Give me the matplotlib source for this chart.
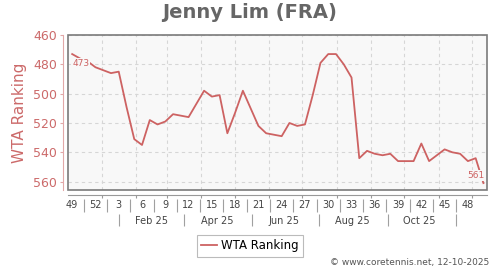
import numpy as np
import matplotlib
matplotlib.use("Agg")
import matplotlib.pyplot as plt
import matplotlib.dates as mdates
import matplotlib.transforms as mtransforms
from matplotlib.patches import Rectangle

# Data: weekly WTA ranking, ISO week 49/2024 .. week 50/2025
first_week = np.datetime64("2024-12-02")
ranking = [473, 476, 478, 482, 484, 486, 485, 509, 531, 535,
           518, 521, 519, 514, 515, 516, 507, 498, 502, 501,
           527, 513, 498, 510, 522, 527, 528, 529, 520, 522,
           521, 501, 479, 473, 473, 480, 489, 544, 539, 541,
           542, 541, 546, 546, 546, 534, 546, 542, 538, 540,
           541, 546, 544, 561]
week_labels = ["49", "52", "3", "6", "9", "12", "15", "18", "21", "24",
               "27", "30", "33", "36", "39", "42", "45", "48"]
month_labels = ["Feb 25", "Apr 25", "Jun 25", "Aug 25", "Oct 25"]
month_label_dates = ["2025-02-15", "2025-04-15", "2025-06-15", "2025-08-15", "2025-10-15"]
month_sep_dates = ["2025-01-16T12", "2025-03-16T12", "2025-05-16T12",
                   "2025-07-16T12", "2025-09-16T12", "2025-11-16T12"]
y_ticks = [460, 480, 500, 520, 540, 560]

line_color = "#cd6262"
axis_color = "#cc6a6a"
bg = "#f8f8f8"

# points sit in the middle of each week
week_start = first_week + np.arange(len(ranking)) * np.timedelta64(7, "D")
x = (week_start + np.timedelta64(84, "h")).astype("datetime64[ms]").astype(object)

fig = plt.figure(figsize=(5, 2.7), dpi=100)
ax = fig.add_axes([68.3 / 500, 1 - 190 / 270, (487.3 - 68.3) / 500, 155 / 270])
ax.set_facecolor(bg)

line, = ax.plot(x, ranking, color=line_color, lw=1.3, label="WTA Ranking", zorder=3)

ax.set_xlim(week_start[0].astype(object), (week_start[-1] + np.timedelta64(7, "D")).astype(object))
ax.set_ylim(565.7, 460)
ax.set_yticks(y_ticks)

# grid
ax.xaxis.set_major_locator(mdates.MonthLocator())
ax.xaxis.set_major_formatter(plt.NullFormatter())
ax.grid(True, color="#d6d6d6", lw=0.8, linestyle=(0, (3, 3)))

# spines
for s in ["top", "right"]:
    ax.spines[s].set_visible(False)
ax.spines["left"].set_position(("outward", 3.6))
ax.spines["left"].set_color("#e2a8a8")
ax.spines["bottom"].set_position(("outward", 3.6))
ax.spines["bottom"].set_color("#999999")
ax.add_patch(Rectangle((0, 0), 1, 1, transform=ax.transAxes, fill=False,
                       ec="#7a7a7a", lw=1.2, clip_on=False, zorder=5))

ax.tick_params(axis="y", colors="#e2a8a8", labelcolor=axis_color, labelsize=9,
               length=2.5, pad=2)
ax.tick_params(axis="x", colors="#999999", length=2, width=0.8)

ax.set_ylabel("WTA Ranking", color=axis_color, fontsize=11, labelpad=4)

# week label row and month label row
trans = mtransforms.blended_transform_factory(ax.transData, fig.transFigure)
wk_pos = x[::3]
for xp, lab in zip(wk_pos, week_labels):
    ax.text(xp, 1 - 205.5 / 270, lab, transform=trans, ha="center", va="center",
            fontsize=7, color="#444444")
wk_num = mdates.date2num(wk_pos)
seps = (wk_num[:-1] + wk_num[1:]) / 2
ax.vlines(seps, 1 - 212 / 270, 1 - 199 / 270, transform=trans, colors="#a0a0a0",
          lw=0.8, clip_on=False)
for d, lab in zip(month_label_dates, month_labels):
    ax.text(np.datetime64(d).astype(object), 1 - 220.5 / 270, lab, transform=trans,
            ha="center", va="center", fontsize=7, color="#444444")
msep = mdates.date2num([np.datetime64(d).astype("datetime64[ms]").astype(object) for d in month_sep_dates])
ax.vlines(msep, 1 - 226 / 270, 1 - 214 / 270, transform=trans, colors="#a0a0a0",
          lw=0.8, clip_on=False)

# first / last value labels
bb = dict(facecolor=bg, edgecolor="none", pad=0.5)
ax.annotate(str(ranking[0]), (x[0], ranking[0]), xytext=(0, -5), textcoords="offset pixels",
            ha="left", va="top", fontsize=6.5, color=line_color, bbox=bb, zorder=4)
ax.annotate(str(ranking[-1]), (x[-1], ranking[-1]), xytext=(1, 3), textcoords="offset pixels",
            ha="right", va="bottom", fontsize=6.5, color=line_color, bbox=bb, zorder=4)

ax.set_xlim(week_start[0].astype(object), (week_start[-1] + np.timedelta64(7, "D")).astype(object))
ax.set_ylim(565.7, 460)

fig.suptitle("Jenny Lim (FRA)", x=0.5, y=1 - 13 / 270, va="center", fontsize=14,
             fontweight="bold", color="#666666")
leg = fig.legend(handles=[line], loc="center", bbox_to_anchor=(0.5, 1 - 246 / 270),
                 fontsize=8.5, frameon=True, fancybox=False, edgecolor="#aaaaaa",
                 handlelength=1.3, handletextpad=0.4, borderpad=0.35, borderaxespad=0)
leg.get_frame().set_linewidth(0.8)
fig.text(0.978, 1 - 263 / 270, "\u00a9 www.coretennis.net, 12-10-2025", ha="right",
         va="center", fontsize=6.5, color="#555555")

fig.savefig("out.png", dpi=100)
